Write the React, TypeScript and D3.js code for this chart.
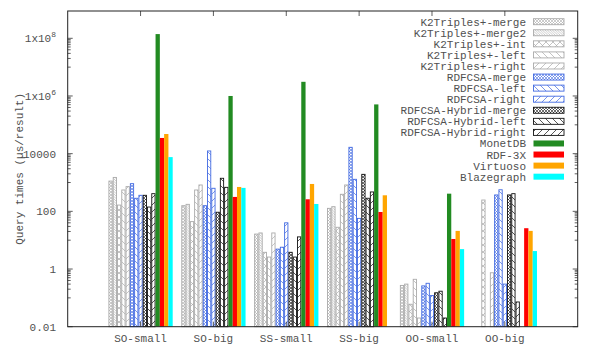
import React from "react";
import * as d3 from "d3";

// query groups along x
const groups = ["SO-small", "SO-big", "SS-small", "SS-big", "OO-small", "OO-big"];

// one entry per series, values per group (null = no bar)
const k2Merge = [1120, 157, 16.3, 127, 0.27, null];
const k2Merge2 = [1500, 175, 17.8, 145, 0.3, null];
const k2Int = [165, 44, 3.8, 28, 0.06, 247];
const k2Left = [550, 550, 2.6, 390, 0.44, null];
const k2Right = [720, 820, 17.8, 820, 0.02, 0.74];
const csaMerge = [910, 157, 4.9, 16600, 0.26, 370];
const csaLeft = [284, 12400, 5.7, 1290, 0.32, 560];
const csaRight = [360, 630, 40, 57, 0.12, 0.3];
const hybMerge = [360, 93, 3.8, 1920, 0.15, 370];
const hybLeft = [141, 1400, 2.6, 284, 0.17, 410];
const hybRight = [410, 680, 13, 470, 0.02, 0.072];
const monetdb = [1.4e8, 1e6, 3.1e6, 5.1e5, 410, null];
const rdf3x = [35000, 316, 262, 95, 11, 26];
const virtuoso = [48000, 700, 890, 360, 21, 21];
const blazegraph = [7600, 650, 180, null, 4.9, 4.2];

const seriesNames = [
  "K2Triples+-merge",
  "K2Triples+-merge2",
  "K2Triples+-int",
  "K2Triples+-left",
  "K2Triples+-right",
  "RDFCSA-merge",
  "RDFCSA-left",
  "RDFCSA-right",
  "RDFCSA-Hybrid-merge",
  "RDFCSA-Hybrid-left",
  "RDFCSA-Hybrid-right",
  "MonetDB",
  "RDF-3X",
  "Virtuoso",
  "Blazegraph",
];
const seriesValues = [
  k2Merge, k2Merge2, k2Int, k2Left, k2Right,
  csaMerge, csaLeft, csaRight,
  hybMerge, hybLeft, hybRight,
  monetdb, rdf3x, virtuoso, blazegraph,
];

const yTicks = [0.01, 1, 100, 10000, 1e6, 1e8];

const GREY = "#aaaaaa";
const BLUE = "#4169e1";
const BLACK = "#111111";
const FONT = "'Liberation Mono', 'DejaVu Sans Mono', monospace";
const TEXT = "#505050";

// color + fill pattern per series (p null = solid)
const styles = [
  { c: GREY, p: "merge" },
  { c: GREY, p: "merge2" },
  { c: GREY, p: "int" },
  { c: GREY, p: "left" },
  { c: GREY, p: "right" },
  { c: BLUE, p: "merge" },
  { c: BLUE, p: "left" },
  { c: BLUE, p: "right" },
  { c: BLACK, p: "merge" },
  { c: BLACK, p: "left" },
  { c: BLACK, p: "right" },
  { c: "#228b22", p: null },
  { c: "#ff0000", p: null },
  { c: "#ffa500", p: null },
  { c: "#00ffff", p: null },
];

const colorKey = (c: string) => c.replace("#", "");

function Patterns() {
  const cols = [GREY, BLUE, BLACK];
  return (
    <defs>
      {cols.map((c) => {
        const k = colorKey(c);
        return (
          <React.Fragment key={k}>
            <pattern id={`merge-${k}`} width={3} height={3} patternUnits="userSpaceOnUse">
              <path d="M-1,-1L4,4M-1,4L4,-1" stroke={c} strokeWidth={0.6} fill="none" />
            </pattern>
            <pattern id={`merge2-${k}`} width={2.5} height={2.5} patternUnits="userSpaceOnUse">
              <path d="M-1,-1L3.5,3.5" stroke={c} strokeWidth={0.6} fill="none" />
            </pattern>
            <pattern id={`int-${k}`} width={7} height={7} patternUnits="userSpaceOnUse">
              <path d="M0,0L7,7M0,7L7,0" stroke={c} strokeWidth={0.7} fill="none" />
            </pattern>
            <pattern id={`left-${k}`} width={7} height={7} patternUnits="userSpaceOnUse">
              <path d="M-1,-1L8,8" stroke={c} strokeWidth={0.7} fill="none" />
            </pattern>
            <pattern id={`right-${k}`} width={7} height={7} patternUnits="userSpaceOnUse">
              <path d="M-1,8L8,-1" stroke={c} strokeWidth={0.7} fill="none" />
            </pattern>
          </React.Fragment>
        );
      })}
    </defs>
  );
}

export default function App() {
  const W = 598;
  const H = 349;
  const left = 67.7;
  const right = 577.7;
  const top = 11;
  const bottom = 326.7;

  const x = d3.scaleLinear().domain([-1, 6]).range([left, right]);
  const y = d3.scaleLog().domain([0.01, 1e8]).range([bottom, 38.3]);
  const unit = x(1) - x(0);
  const bw = unit / 17;

  // minor tics: m * 10^odd (gnuplot style with major every factor 100)
  const minor: number[] = [];
  for (let e = -1; e <= 8; e += 2) {
    for (let m = 1; m <= 9; m++) {
      const v = m * Math.pow(10, e);
      if (y(v) >= top && y(v) <= bottom) minor.push(v);
    }
  }

  const fillOf = (i: number) =>
    styles[i].p ? `url(#${styles[i].p}-${colorKey(styles[i].c)})` : styles[i].c;

  const renderLabel = (v: number) => {
    if (v >= 1e6) {
      const e = Math.round(Math.log10(v));
      return (
        <>
          1x10<tspan dy={-5} fontSize={8}>{e}</tspan>
        </>
      );
    }
    return String(v);
  };

  return (
    <svg width={W} height={H} style={{ position: "absolute", left: 0, top: 0, background: "#fff" }}>
      <Patterns />
      {/* bars */}
      {seriesValues.map((vals, si) =>
        vals.map((v, gi) => {
          if (v == null) return null;
          const cx = x(gi) + (si - 7) * bw;
          const yt = y(v);
          const patterned = !!styles[si].p;
          return (
            <rect
              key={`${si}-${gi}`}
              x={patterned ? cx - bw / 2 + 0.5 : cx - bw / 2}
              y={yt}
              width={patterned ? bw - 1 : bw}
              height={bottom - yt}
              fill={fillOf(si)}
              stroke={patterned ? styles[si].c : "none"}
              strokeWidth={0.9}
            />
          );
        })
      )}
      {/* ticks */}
      <g stroke="#333" strokeWidth={0.8}>
        {yTicks.map((t) => (
          <g key={`t${t}`}>
            <line x1={left} x2={left + 5} y1={y(t)} y2={y(t)} />
            <line x1={right} x2={right - 5} y1={y(t)} y2={y(t)} />
          </g>
        ))}
        {minor.map((t) => (
          <g key={`m${t}`}>
            <line x1={left} x2={left + 3} y1={y(t)} y2={y(t)} />
            <line x1={right} x2={right - 3} y1={y(t)} y2={y(t)} />
          </g>
        ))}
        {groups.map((g, gi) => (
          <g key={`x${g}`}>
            <line x1={x(gi)} x2={x(gi)} y1={top} y2={top + 5} />
            <line x1={x(gi)} x2={x(gi)} y1={bottom} y2={bottom - 5} />
          </g>
        ))}
      </g>
      {/* frame */}
      <rect x={left} y={top} width={right - left} height={bottom - top} fill="none" stroke="#222" strokeWidth={1} />
      {/* y labels */}
      <g fontFamily={FONT} fontSize={11} fill={TEXT} textAnchor="end">
        {yTicks.map((t) => (
          <text key={`l${t}`} x={56} y={y(t) + 4}>
            {renderLabel(t)}
          </text>
        ))}
      </g>
      {/* x labels */}
      <g fontFamily={FONT} fontSize={11} fill={TEXT} textAnchor="middle">
        {groups.map((g, gi) => (
          <text key={g} x={x(gi)} y={342}>
            {g}
          </text>
        ))}
      </g>
      <text
        transform={`translate(22.5,${(top + bottom) / 2}) rotate(-90)`}
        textAnchor="middle"
        fontFamily={FONT}
        fontSize={11}
        fill={TEXT}
      >
        Query times (µs/result)
      </text>
      {/* legend */}
      <g fontFamily={FONT} fontSize={11} fill={TEXT}>
        {seriesNames.map((n, i) => {
          const ly = 21.7 + i * 11.07;
          return (
            <g key={n}>
              <text x={526} y={ly + 4} textAnchor="end">
                {n}
              </text>
              <rect
                x={533.5}
                y={ly - 3}
                width={30.5}
                height={6}
                fill={fillOf(i)}
                stroke={styles[i].p ? styles[i].c : "none"}
                strokeWidth={0.9}
              />
            </g>
          );
        })}
      </g>
    </svg>
  );
}
